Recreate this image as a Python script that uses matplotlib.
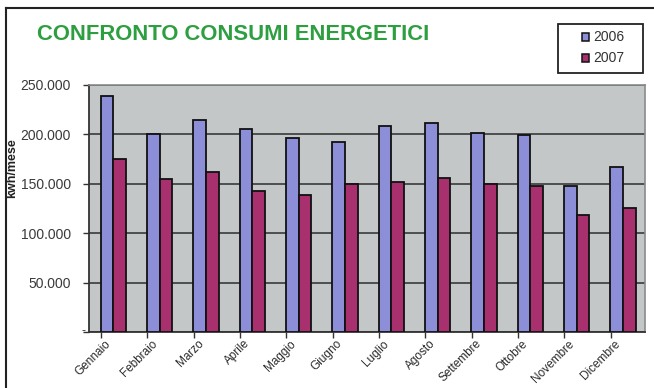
import matplotlib
matplotlib.use("Agg")
import matplotlib.pyplot as plt
from matplotlib.patches import Rectangle
from matplotlib.lines import Line2D
from matplotlib.ticker import FixedLocator, FuncFormatter
import numpy as np

mesi = ["Gennaio", "Febbraio", "Marzo", "Aprile", "Maggio", "Giugno",
        "Luglio", "Agosto", "Settembre", "Ottobre", "Novembre", "Dicembre"]
consumi_2006 = [238000, 200000, 214000, 205000, 196000, 192000,
                208000, 211500, 201000, 199000, 148000, 167000]
consumi_2007 = [175000, 155000, 162000, 142500, 139000, 149500,
                151500, 156000, 150000, 147500, 118000, 125500]
anni = ["2006", "2007"]
y_ticks = [0, 50000, 100000, 150000, 200000, 250000]

plt.rcParams["font.family"] = ["Liberation Sans", "DejaVu Sans"]

W, H = 654, 388
fig = plt.figure(figsize=(W / 100, H / 100), dpi=100)
fig.patch.set_facecolor("white")


def fx(px):
    return px / W


def fy(py):
    return 1 - py / H


left, right, top, bottom = 89, 645, 84.5, 332.3
ax = fig.add_axes([fx(left), fy(bottom), (right - left) / W, (bottom - top) / H])
ax.set_facecolor("#c3c7c7")

x = np.arange(len(mesi))
bw = 0.27
c06, c07 = "#8c8fd8", "#a8306e"
ax.bar(x - 0.245, consumi_2006, width=bw, align="edge", color=c06,
       edgecolor="#111111", linewidth=1.3, zorder=3)
ax.bar(x + 0.025, consumi_2007, width=bw, align="edge", color=c07,
       edgecolor="#111111", linewidth=1.3, zorder=3)

ax.set_xlim(-0.5, len(mesi) - 0.5)
ax.set_ylim(0, 250000)

# y axis: gridlines and thousands with dot separator
ax.yaxis.set_major_locator(FixedLocator(y_ticks))
ax.yaxis.set_major_formatter(FuncFormatter(
    lambda v, p: "" if v == 0 else f"{int(v):,}".replace(",", ".")))
ax.grid(axis="y", color="#3a3a3a", linewidth=1.2, zorder=1)
ax.tick_params(axis="y", length=4, width=1, color="#333333", pad=9,
               labelsize=10, labelcolor="#3a3a3a")

# x axis: small ticks at group edges, month labels rotated
ax.set_xticks(x - 0.07)
ax.set_xticklabels(mesi, rotation=45, ha="right", va="center",
                   rotation_mode="anchor", fontsize=8.5, color="#2a2a2a")
ax.tick_params(axis="x", which="major", length=0, pad=7)
ax.set_xticks(x - 0.24, minor=True)
ax.tick_params(axis="x", which="minor", length=4, width=1, color="#333333")

for s in ["left", "bottom"]:
    ax.spines[s].set_color("#333333")
    ax.spines[s].set_linewidth(1.3)
for s in ["top", "right"]:
    ax.spines[s].set_color("#8a8a8a")
    ax.spines[s].set_linewidth(1.2)

fig.text(fx(83), fy(331), "-", ha="center", va="center",
         fontsize=9, color="#333333")

fig.text(fx(37), fy(35), "CONFRONTO CONSUMI ENERGETICI", ha="left",
         va="center", fontsize=15.8, fontweight="bold", color="#2e9f40")

fig.text(fx(12), fy(168), "kwh/mese", rotation=90, ha="center",
         va="center", fontsize=9, fontweight="bold", color="#222222")

# legend box drawn by hand
fig.add_artist(Rectangle((fx(558), fy(73)), (643 - 558) / W, (73 - 24) / H,
                         transform=fig.transFigure, facecolor="white",
                         edgecolor="#222222", linewidth=1.3))
for i, (lab, col) in enumerate(zip(anni, [c06, c07])):
    cy = 37 + i * 21
    fig.add_artist(Rectangle((fx(582), fy(cy + 3.5)), 7 / W, 7 / H,
                             transform=fig.transFigure, facecolor=col,
                             edgecolor="#111111", linewidth=1.1))
    fig.text(fx(593), fy(cy), lab, ha="left", va="center",
             fontsize=10, color="#333333")

# outer chart frame (top and left edges)
fig.add_artist(Line2D([fx(6), 1], [fy(8), fy(8)],
                      transform=fig.transFigure, color="#222222", linewidth=1.5))
fig.add_artist(Line2D([fx(6), fx(6)], [0, fy(8)],
                      transform=fig.transFigure, color="#222222", linewidth=1.5))

fig.savefig("out.png", dpi=100)
